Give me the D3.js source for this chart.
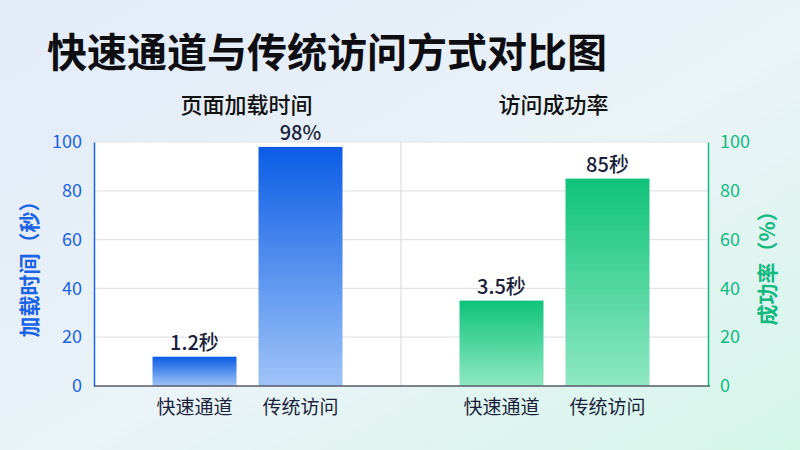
<!DOCTYPE html>
<html>
<head>
<meta charset="utf-8">
<script src="https://cdn.jsdelivr.net/npm/d3@7"></script>
<style>
  html, body { margin: 0; padding: 0; }
  body { width: 800px; height: 450px; overflow: hidden; font-family: "Noto Sans CJK SC", "Noto Sans", sans-serif; }
</style>
</head>
<body>
<svg id="chart" width="800" height="450"></svg>
<script>
const title = "快速通道与传统访问方式对比图";
const panels = ["页面加载时间", "访问成功率"];
const categories = ["快速通道", "传统访问"];
const loadTimeValues = [12, 98];
const successValues = [35, 85];
const loadTimeLabels = ["1.2秒", "98%"];
const successLabels = ["3.5秒", "85秒"];
const yTicks = [0, 20, 40, 60, 80, 100];
const leftAxisTitle = "加载时间（秒）";
const rightAxisTitle = "成功率（%）";

const W = 800, H = 450;
const m = { left: 94, right: 92, top: 142, bottom: 64 };
const plotL = m.left, plotR = W - m.right, plotT = m.top, plotB = H - m.bottom;

const blue = "#1a62e6";
const green = "#14b97f";
const textDark = "#1b1f3b";
const font = '"Noto Sans CJK SC", "Noto Sans", sans-serif';

const svg = d3.select("#chart");
const defs = svg.append("defs");

const bg = defs.append("linearGradient").attr("id", "bg")
  .attr("x1", "0").attr("y1", "0").attr("x2", "1").attr("y2", "1");
bg.append("stop").attr("offset", "0%").attr("stop-color", "#e2ebf8");
bg.append("stop").attr("offset", "55%").attr("stop-color", "#eaf3f7");
bg.append("stop").attr("offset", "100%").attr("stop-color", "#d4f6e9");

const gBlue = defs.append("linearGradient").attr("id", "gBlue")
  .attr("x1", "0").attr("y1", "0").attr("x2", "0").attr("y2", "1");
gBlue.append("stop").attr("offset", "0%").attr("stop-color", "#0b5ce6");
gBlue.append("stop").attr("offset", "100%").attr("stop-color", "#9fc4f7");

const gGreen = defs.append("linearGradient").attr("id", "gGreen")
  .attr("x1", "0").attr("y1", "0").attr("x2", "0").attr("y2", "1");
gGreen.append("stop").attr("offset", "0%").attr("stop-color", "#0fc37a");
gGreen.append("stop").attr("offset", "100%").attr("stop-color", "#8fe8c3");

svg.append("rect").attr("width", W).attr("height", H).attr("fill", "url(#bg)");

// Title
svg.append("text").attr("x", 47).attr("y", 67)
  .attr("font-family", font).attr("font-size", 40).attr("font-weight", 700)
  .attr("fill", "#0d0d12").text(title);

// plot background
svg.append("rect").attr("x", plotL).attr("y", plotT)
  .attr("width", plotR - plotL).attr("height", plotB - plotT).attr("fill", "#ffffff");

const y = d3.scaleLinear().domain([0, 100]).range([plotB, plotT]);
const x0 = d3.scaleBand().domain(panels).range([plotL, plotR]).padding(0);
const x1 = d3.scaleBand().domain(categories).range([0, x0.bandwidth()])
  .paddingInner(0.2075).paddingOuter(0.552);

// grid
svg.append("g").selectAll("line").data(yTicks.filter(d => d > 0)).join("line")
  .attr("x1", plotL).attr("x2", plotR)
  .attr("y1", d => y(d)).attr("y2", d => y(d))
  .attr("stroke", "#e3e3ea").attr("stroke-width", 1.2);

// divider
svg.append("line").attr("x1", x0(panels[1])).attr("x2", x0(panels[1]))
  .attr("y1", plotT).attr("y2", plotB)
  .attr("stroke", "#dcdce4").attr("stroke-width", 1.2);

const panelData = [
  { panel: panels[0], values: loadTimeValues, labels: loadTimeLabels, fill: "url(#gBlue)" },
  { panel: panels[1], values: successValues, labels: successLabels, fill: "url(#gGreen)" }
];

panelData.forEach(p => {
  const g = svg.append("g").attr("transform", `translate(${x0(p.panel)},0)`);
  const rows = categories.map((c, i) => ({ c, v: p.values[i], l: p.labels[i] }));
  g.selectAll("rect").data(rows).join("rect")
    .attr("x", d => x1(d.c)).attr("width", x1.bandwidth())
    .attr("y", d => y(d.v)).attr("height", d => y(0) - y(d.v))
    .attr("fill", p.fill);
  g.selectAll("text.val").data(rows).join("text").attr("class", "val")
    .attr("x", d => x1(d.c) + x1.bandwidth() / 2).attr("y", d => y(d.v) - 7)
    .attr("text-anchor", "middle").attr("font-family", font).attr("font-size", 20)
    .attr("font-weight", 500).attr("fill", textDark).text(d => d.l);
  g.selectAll("text.cat").data(rows).join("text").attr("class", "cat")
    .attr("x", d => x1(d.c) + x1.bandwidth() / 2).attr("y", plotB + 28)
    .attr("text-anchor", "middle").attr("font-family", font).attr("font-size", 19)
    .attr("fill", textDark).text(d => d.c);
  svg.append("text").attr("x", x0(p.panel) + x0.bandwidth() / 2 - 1).attr("y", 113)
    .attr("text-anchor", "middle").attr("font-family", font).attr("font-size", 22)
    .attr("font-weight", 500).attr("fill", "#111").text(p.panel);
});

// bottom axis line
svg.append("line").attr("x1", plotL).attr("x2", plotR + 2)
  .attr("y1", plotB).attr("y2", plotB).attr("stroke", "#555a66").attr("stroke-width", 1.5);

// left axis
const axL = svg.append("g").attr("transform", `translate(${plotL},0)`)
  .call(d3.axisLeft(y).tickValues(yTicks).tickSize(0).tickPadding(12));
axL.select(".domain").attr("stroke", blue).attr("stroke-width", 1.5);
axL.selectAll("text").attr("font-family", font).attr("font-size", 18).attr("fill", blue);

// right axis
const axR = svg.append("g").attr("transform", `translate(${plotR},0)`)
  .call(d3.axisRight(y).tickValues(yTicks).tickSize(0).tickPadding(12));
axR.select(".domain").attr("stroke", green).attr("stroke-width", 1.5);
axR.selectAll("text").attr("font-family", font).attr("font-size", 18).attr("fill", green);

// axis titles
svg.append("text").attr("transform", "translate(37,264) rotate(-90)")
  .attr("text-anchor", "middle").attr("font-family", font).attr("font-size", 21)
  .attr("font-weight", 700).attr("fill", blue).text(leftAxisTitle);
svg.append("text").attr("transform", "translate(775,263) rotate(-90)")
  .attr("text-anchor", "middle").attr("font-family", font).attr("font-size", 21)
  .attr("font-weight", 700).attr("fill", green).text(rightAxisTitle);
</script>
</body>
</html>
